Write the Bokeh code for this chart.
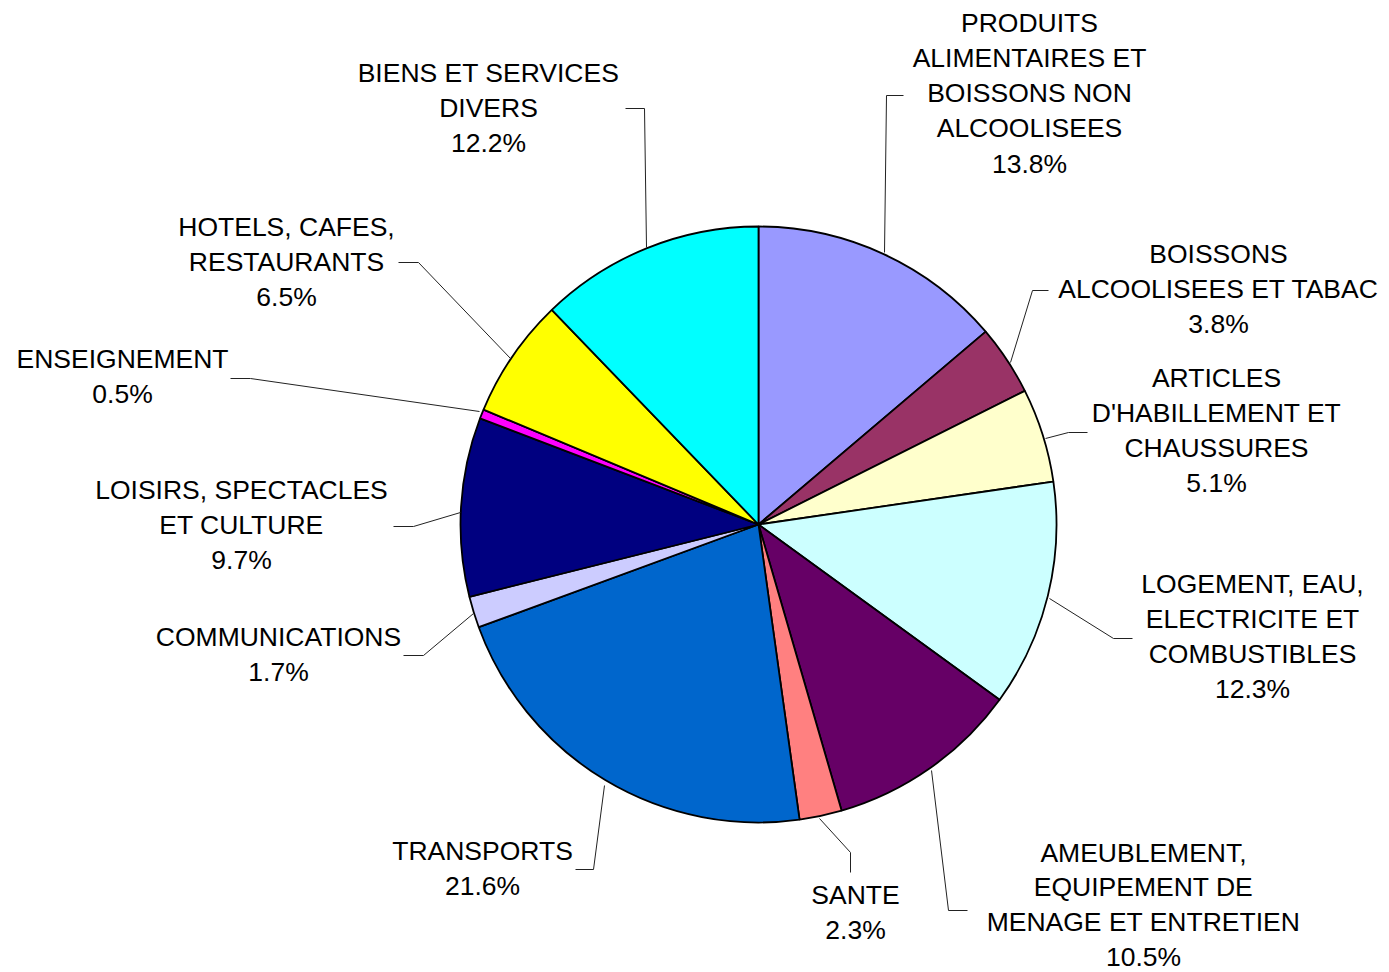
import math
from bokeh.plotting import figure
from bokeh.models import Range1d, ColumnDataSource
from bokeh.core.properties import value
from bokeh.embed import file_html
from bokeh.resources import INLINE

# ---- data ----
categories = [
    "PRODUITS\nALIMENTAIRES ET\nBOISSONS NON\nALCOOLISEES",
    "BOISSONS\nALCOOLISEES ET TABAC",
    "ARTICLES\nD'HABILLEMENT ET\nCHAUSSURES",
    "LOGEMENT, EAU,\nELECTRICITE ET\nCOMBUSTIBLES",
    "AMEUBLEMENT,\nEQUIPEMENT DE\nMENAGE ET ENTRETIEN",
    "SANTE",
    "TRANSPORTS",
    "COMMUNICATIONS",
    "LOISIRS, SPECTACLES\nET CULTURE",
    "ENSEIGNEMENT",
    "HOTELS, CAFES,\nRESTAURANTS",
    "BIENS ET SERVICES\nDIVERS",
]
shares = [13.8, 3.8, 5.1, 12.3, 10.5, 2.3, 21.6, 1.7, 9.7, 0.5, 6.5, 12.2]
colors = ["#9999FF", "#993366", "#FFFFCC", "#CCFFFF", "#660066", "#FF8080",
          "#0066CC", "#CCCCFF", "#000080", "#FF00FF", "#FFFF00", "#00FFFF"]

# ---- layout (reference pixel coordinates) ----
W, H = 1389, 972
def X(px): return px
def Y(py): return H - py

CX, CY, R = 758, 524, 298
label_pos = [(1029, 22), (1218, 253), (1216, 377), (1252, 583), (1143, 852),
             (855, 894), (482, 850), (278, 636), (241, 489), (122, 358),
             (286, 226), (488, 72)]
label_step = [35.3, 35.3, 35.3, 35.3, 34.8, 35.3, 35.3, 35.3, 35.3, 35.3,
              35.3, 35.3]
leaders = [
    [(884, 252), (886, 95), (903, 95)],
    [(1010, 362), (1032, 290), (1048, 290)],
    [(1045, 438), (1068, 432), (1087, 432)],
    [(1049, 598), (1113, 638), (1132, 638)],
    [(931, 770), (948, 910), (967, 910)],
    [(819, 818), (850, 852), (850, 872)],
    [(604, 785), (593, 869), (575, 869)],
    [(473, 613), (423, 655), (403, 655)],
    [(460, 512), (413, 526), (393, 526)],
    [(479, 411), (250, 378), (230, 378)],
    [(510, 358), (418, 262), (398, 262)],
    [(646, 247), (644, 108), (625, 108)],
]
FONT = "Liberation Sans"
FSIZE = "26.5px"

p = figure(width=W, height=H, x_range=Range1d(0, W), y_range=Range1d(0, H),
           output_backend="svg", toolbar_location=None,
           x_axis_type=None, y_axis_type=None, min_border=0)
p.grid.visible = False
p.outline_line_color = None
p.background_fill_color = "white"
p.border_fill_color = "white"

total = sum(shares)
starts, ends = [], []
cum = 0.0
for s in shares:
    a0 = math.pi / 2 - 2 * math.pi * cum / total
    cum += s
    a1 = math.pi / 2 - 2 * math.pi * cum / total
    starts.append(a1)
    ends.append(a0)

src = ColumnDataSource(dict(start=starts, end=ends, color=colors))
p.wedge(x=X(CX), y=Y(CY), radius=R, start_angle="start", end_angle="end",
        fill_color="color", line_color="black", line_width=1.8, source=src,
        direction="anticlock")

# leader lines
p.multi_line(xs=[[X(a) for a, b in l] for l in leaders],
             ys=[[Y(b) for a, b in l] for l in leaders],
             line_color="#222222", line_width=1)

# labels
tx, ty, tt = [], [], []
for cat, s, (lx, ly), step in zip(categories, shares, label_pos, label_step):
    lines = cat.split("\n") + [f"{s:.1f}%"]
    for i, ln in enumerate(lines):
        tx.append(X(lx))
        ty.append(Y(ly + i * step))
        tt.append(ln)
p.text(x=tx, y=ty, text=tt, text_align="center", text_baseline="middle",
       text_font=value(FONT), text_font_size=FSIZE, text_color="black")

open("out.html", "w").write(file_html(p, INLINE))
